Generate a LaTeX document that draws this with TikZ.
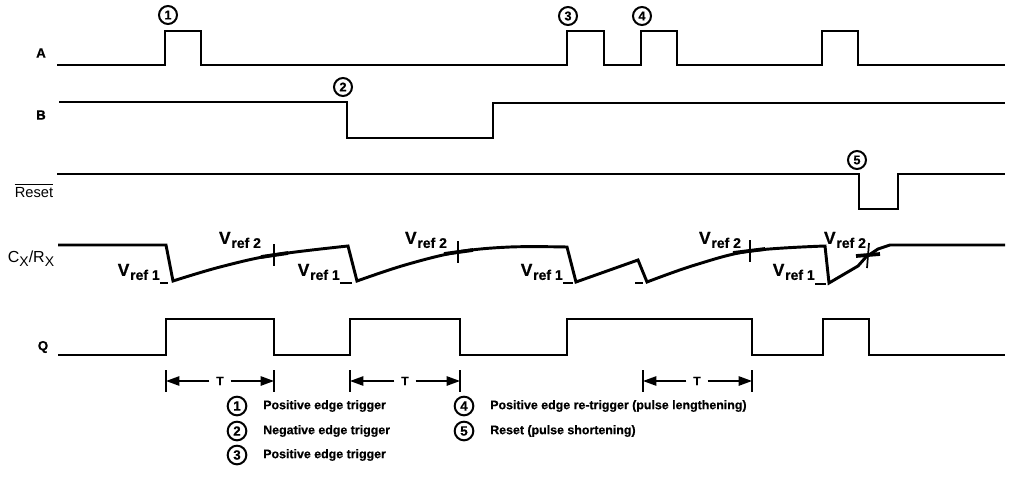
\documentclass[tikz,border=0pt]{standalone}
\usepackage{fontspec}
\setmainfont{Liberation Sans}
\newfontfamily\heavy{Liberation Sans}[BoldFeatures={FakeBold=0.6}]
\usetikzlibrary{arrows.meta,calc}
\newcommand\Vr[1]{{\fontsize{13}{13}\selectfont V}\hspace{0.6pt}\raisebox{-3pt}{\fontsize{10.5}{11}\selectfont ref #1}}
\begin{document}
\begin{tikzpicture}[x=0.75pt,y=-0.75pt,
  wave/.style={line width=2.2pt, line join=miter},
  lbl/.style={font=\heavy\bfseries\fontsize{10}{11}\selectfont, inner sep=0pt},
  num/.style={circle, draw, line width=1.5pt, inner sep=0pt, minimum size=13.5pt, font=\heavy\bfseries\fontsize{9.5}{10}\selectfont},
  lnum/.style={num, minimum size=14pt, font=\heavy\bfseries\fontsize{10}{10}\selectfont},
  legend/.style={anchor=west, font=\heavy\bfseries\fontsize{9.3}{10}\selectfont, inner sep=0pt},
  vref/.style={inner sep=0pt, font=\heavy\bfseries},
  tick/.style={line width=1.3pt},
  vdash/.style={line width=2.8pt},
  rdash/.style={line width=1.5pt},
  bar/.style={line width=1.6pt},
  tlab/.style={font=\heavy\bfseries\fontsize{9}{9}\selectfont, inner sep=5pt},
  tarr/.style={line width=1.2pt, -{Triangle[length=10pt,width=7pt]}},
]
\useasboundingbox (0,0) rectangle (1014,496);

% signal labels
\node[lbl] (lA) at (41,53) {A};
\node[lbl] (lB) at (41,115) {B};
\node[inner sep=0pt, font=\fontsize{11}{12}\selectfont] (lR) at (34,193) {Reset};
\draw[line width=0.8pt] ($(lR.north west)+(0,-3)$) -- ($(lR.north east)+(0,-3)$);
\node[inner sep=0pt, font=\fontsize{12}{12}\selectfont] (lC) at (31,259) {C\raisebox{-3pt}{\fontsize{10.5}{10}\selectfont X}/R\raisebox{-3pt}{\fontsize{10.5}{10}\selectfont X}};
\node[lbl] (lQ) at (43,347) {Q};

% event markers
\node[num] (n1) at (168,15) {1};
\node[num] (n2) at (343,87) {2};
\node[num] (n3) at (568,16) {3};
\node[num] (n4) at (642,16) {4};
\node[num] (n5) at (857,160) {5};

% A
\draw[wave] (57,65) -- (165,65) -- (165,31) -- (201,31) -- (201,65) -- (567,65) -- (567,31) -- (604,31) -- (604,65)
  -- (641,65) -- (641,31) -- (677,31) -- (677,65) -- (822,65) -- (822,31) -- (858,31) -- (858,65) -- (1005,65);
% B
\draw[wave] (59,102) -- (347,102) -- (347,138) -- (493,138) -- (493,103) -- (1005,103);
% Reset
\draw[wave] (57,174) -- (859,174) -- (859,209) -- (898,209) -- (898,174) -- (1005,174);
% Cx/Rx
\draw[wave] (58,245) -- (166,245)
  -- plot[smooth, tension=0.6] coordinates {(173,281) (220,267) (274,255) (348,246)}
  -- plot[smooth, tension=0.6] coordinates {(357,281) (405,265) (458,252) (510,247) (567,247)}
  -- (576,282) -- (638,260)
  -- plot[smooth, tension=0.6] coordinates {(647,282) (695,265) (750,251) (825,246)}
  -- (829,283) -- (858,266) -- (866,257) -- (878,249) -- (890,245) -- (1005,245);
% Q
\draw[wave] (58,355) -- (166,355) -- (166,319) -- (274,319) -- (274,355) -- (350,355) -- (350,319) -- (460,319) -- (460,355)
  -- (567,355) -- (567,319) -- (752,319) -- (752,355) -- (823,355) -- (823,319) -- (869,319) -- (869,355) -- (1005,355);

% Vref 2 marks
\draw[tick] (274,244) -- (274,266);
\draw[vdash] (261,257) -- (288,253);
\draw[tick] (458,241) -- (458,263);
\draw[vdash] (444,254) -- (473,250);
\draw[tick] (750,240) -- (750,262);
\draw[vdash] (733,253) -- (765,249);
\draw[tick] (869,243) -- (867,268);
\draw[vdash] (856,256) -- (880,254);
% Vref 1 marks
\draw[rdash] (160,283) -- (168,283);
\draw[rdash] (340,283) -- (352,283);
\draw[rdash] (563,283) -- (573,283);
\draw[rdash] (635,283) -- (643,283);
\draw[rdash] (815,284) -- (826,284);

% Vref labels
\node[vref, anchor=east] (v1a) at (160,272) {\Vr{1}};
\node[vref] (v2a) at (240,240) {\Vr{2}};
\node[vref, anchor=east] (v1b) at (340,272) {\Vr{1}};
\node[vref] (v2b) at (426,240) {\Vr{2}};
\node[vref, anchor=east] (v1c) at (563,272) {\Vr{1}};
\node[vref] (v2c) at (720,240) {\Vr{2}};
\node[vref, anchor=east] (v1d) at (815,272) {\Vr{1}};
\node[vref] (v2d) at (845,240) {\Vr{2}};

% T arrows
\coordinate (t1l) at (166,381); \coordinate (t1r) at (274,381);
\coordinate (t2l) at (350,381); \coordinate (t2r) at (460,381);
\coordinate (t3l) at (643,381); \coordinate (t3r) at (752,381);
\node[tlab] (T1) at (220,381) {T};
\node[tlab] (T2) at (405,381) {T};
\node[tlab] (T3) at (697,381) {T};
\foreach \b in {t1l,t1r,t2l,t2r,t3l,t3r} {\draw[bar] ($(\b)+(0,-11)$) -- ($(\b)+(0,11)$);}
\draw[tarr] (T1) -- (t1l); \draw[tarr] (T1) -- (t1r);
\draw[tarr] (T2) -- (t2l); \draw[tarr] (T2) -- (t2r);
\draw[tarr] (T3) -- (t3l); \draw[tarr] (T3) -- (t3r);

% legend
\node[lnum] (k1) at (237,406) {1}; \node[legend] (k1t) at (263,406) {Positive edge trigger};
\node[lnum] (k2) at (237,431) {2}; \node[legend] (k2t) at (263,431) {Negative edge trigger};
\node[lnum] (k3) at (237,455) {3}; \node[legend] (k3t) at (263,455) {Positive edge trigger};
\node[lnum] (k4) at (464,406) {4}; \node[legend] (k4t) at (490,406) {Positive edge re-trigger (pulse lengthening)};
\node[lnum] (k5) at (464,431) {5}; \node[legend] (k5t) at (490,431) {Reset (pulse shortening)};
\end{tikzpicture}
\end{document}
